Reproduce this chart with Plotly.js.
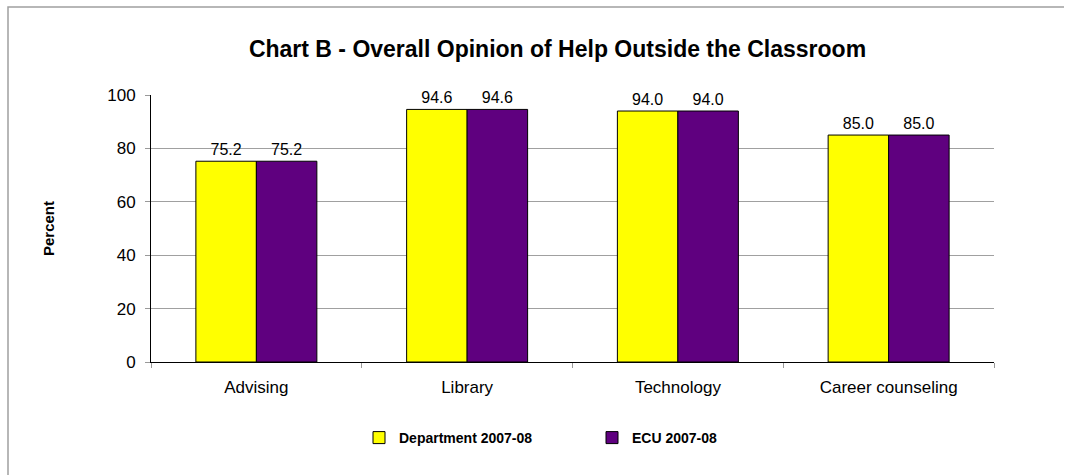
<!DOCTYPE html>
<html><head><meta charset="utf-8">
<script src="https://cdn.plot.ly/plotly-3.0.1.min.js"></script>
<style>html,body{margin:0;padding:0;background:#fff;overflow:hidden}#chart{width:1065px;height:476px}</style>
</head><body><div id="chart"></div>
<script>
const categories = ["Advising", "Library", "Technology", "Career counseling"];
const seriesNames = ["Department 2007-08", "ECU 2007-08"];
const department = [75.2, 94.6, 94.0, 85.0];
const ecu = [75.2, 94.6, 94.0, 85.0];
const yTicks = [0, 20, 40, 60, 80, 100];

const F = "Arial, 'Liberation Sans', sans-serif";
function bar(name, vals, color) {
  return {
    type: "bar", name: name, x: categories, y: vals,
    marker: {color: color, line: {color: "#000", width: 1}},
    text: vals.map(v => v.toFixed(1)), textposition: "outside",
    textfont: {family: F, size: 16, color: "#000"}, cliponaxis: false,
    hoverinfo: "skip"
  };
}
const data = [bar(seriesNames[0], department, "#ffff00"), bar(seriesNames[1], ecu, "#5f007f")];
const L = 151, PW = 843, PB = 362, PH = 267;
const layout = {
  width: 1065, height: 476,
  margin: {l: 151, r: 71, t: 95, b: 114},
  paper_bgcolor: "#fff", plot_bgcolor: "#fff",
  barmode: "group", bargap: 0.426, bargroupgap: 0,
  title: {text: "<b>Chart B - Overall Opinion of Help Outside the Classroom</b>",
          font: {family: F, size: 23, color: "#000"}, x: 557.5/1065, xanchor: "center",
          y: 1 - 49/476, yanchor: "middle", yref: "container"},
  xaxis: {type: "category", showline: true, linecolor: "#000", linewidth: 1,
          tickson: "boundaries", ticks: "outside", ticklen: 5, tickcolor: "#999",
          ticklabelstandoff: 10,
          tickfont: {family: F, size: 17, color: "#000"}, showgrid: false, zeroline: false, fixedrange: true},
  yaxis: {range: [0, 100], tickvals: yTicks, ticktext: yTicks.map(String),
          showline: true, linecolor: "#000", linewidth: 1,
          ticks: "outside", ticklen: 5, tickcolor: "#999", ticklabelstandoff: 6,
          tickfont: {family: F, size: 17, color: "#000"},
          showgrid: true, gridcolor: "#a0a0a0", gridwidth: 1, zeroline: false,
          title: {text: "<b>Percent</b>", font: {family: F, size: 15, color: "#000"}, standoff: 48},
          fixedrange: true},
  showlegend: true,
  legend: {orientation: "h", x: (359 - L)/PW, xanchor: "left", y: (PB - 438)/PH, yanchor: "middle",
           font: {family: F, size: 14, color: "#000", weight: "bold"}, entrywidth: 188, entrywidthmode: "pixels",
           itemwidth: 30, traceorder: "normal"},
  shapes: [{type: "path", xref: "paper", yref: "paper",
            path: `M ${(8-L)/PW},${(PB-475)/PH} L ${(8-L)/PW},${(PB-7)/PH} L ${(1064-L)/PW},${(PB-7)/PH}`,
            line: {color: "#a0a0a0", width: 1.5}, layer: "below"}]
};
Plotly.newPlot("chart", data, layout, {displayModeBar: false, staticPlot: true});
</script></body></html>
